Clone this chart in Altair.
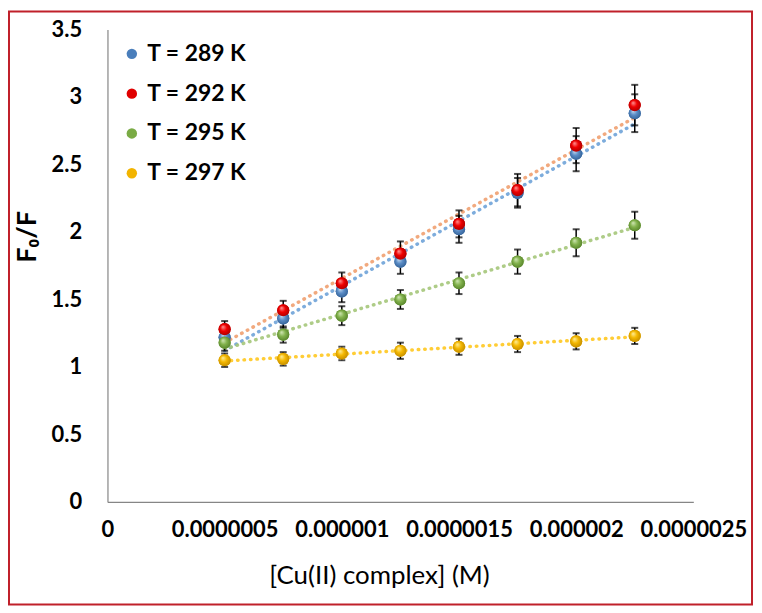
import altair as alt
import pandas as pd

conc = [0.0000005, 0.00000075, 0.000001, 0.00000125, 0.0000015, 0.00000175, 0.000002, 0.00000225]
series = ["T = 289 K", "T = 292 K", "T = 295 K", "T = 297 K"]

f289 = [1.22, 1.36, 1.56, 1.78, 2.02, 2.29, 2.58, 2.88]
f292 = [1.28, 1.42, 1.62, 1.84, 2.06, 2.31, 2.64, 2.94]
f295 = [1.18, 1.24, 1.38, 1.50, 1.62, 1.78, 1.92, 2.05]
f297 = [1.05, 1.06, 1.10, 1.12, 1.15, 1.17, 1.19, 1.23]

e289 = [0.06, 0.07, 0.08, 0.09, 0.10, 0.11, 0.13, 0.14]
e292 = [0.06, 0.07, 0.08, 0.09, 0.10, 0.12, 0.13, 0.15]
e295 = [0.06, 0.06, 0.07, 0.07, 0.08, 0.09, 0.10, 0.10]
e297 = [0.05, 0.05, 0.05, 0.06, 0.06, 0.06, 0.06, 0.06]

x_ticks = [0, 0.0000005, 0.000001, 0.0000015, 0.000002, 0.0000025]
y_ticks = [0, 0.5, 1, 1.5, 2, 2.5, 3, 3.5]

marker_colors = ["#4A7EBB", "#E00000", "#7AAB45", "#F2B400"]
trend_colors = ["#6FA3D8", "#F0A070", "#A5C77A", "#FFC820"]
grad_stops = [
    ["#C9DDF2", "#5A8CC6", "#2D5A8E"],
    ["#FF9A9A", "#F00000", "#A00000"],
    ["#D3E8B8", "#82B24C", "#4E7A24"],
    ["#FFF0A0", "#F5B800", "#B88400"],
]

rows = []
for s, ys, es in zip(series, [f289, f292, f295, f297], [e289, e292, e295, e297]):
    for c, v, e in zip(conc, ys, es):
        rows.append({"conc": c, "series": s, "y": v, "lo": v - e, "hi": v + e})
df = pd.DataFrame(rows)

FONT = "Lato"

xs = alt.X("conc:Q", scale=alt.Scale(domain=[0, 0.0000025], nice=False, zero=False),
           axis=alt.Axis(values=x_ticks, format=".7~f", title="[Cu(II) complex] (M)",
                         titleX=273, titleY=74, titleBaseline="middle", titleAlign="center",
                         titleFontWeight="normal", titleFontSize=26, labelPadding=18,
                         labelFlush=False))
ys_ = alt.Y("y:Q", scale=alt.Scale(domain=[0, 3.5], nice=False),
            axis=alt.Axis(values=y_ticks, format="~f", title="F₀/F",
                          titleX=-80, titleY=208, titleAngle=-90, titleBaseline="middle",
                          titleAlign="center", titleFontSize=27, titleFontWeight="bold",
                          labelPadding=26))

base = alt.Chart(df)

frame = alt.Chart(alt.Data(values=[{"k": 1}])).mark_rect(
    fillOpacity=0, stroke="#C0202A", strokeWidth=2
).encode(x=alt.value(-99), x2=alt.value(648), y=alt.value(-18), y2=alt.value(578))

trend = base.transform_calculate(grp="datum.series").transform_regression(
    "conc", "y", groupby=["grp"]
).mark_line(
    strokeDash=[0.5, 6], strokeWidth=3.5, strokeCap="round", opacity=0.9
).encode(
    x=xs, y=ys_,
    stroke=alt.Stroke("grp:N", scale=alt.Scale(domain=series, range=trend_colors), legend=None),
)

err = base.mark_rule(color="black", strokeWidth=1.5).encode(x="conc:Q", y="lo:Q", y2="hi:Q")
cap_lo = base.mark_tick(color="black", thickness=2, size=7, orient="horizontal").encode(x="conc:Q", y="lo:Q")
cap_hi = base.mark_tick(color="black", thickness=2, size=7, orient="horizontal").encode(x="conc:Q", y="hi:Q")

pts = base.mark_circle(size=150, opacity=1).encode(
    x="conc:Q", y="y:Q",
    color=alt.Color("series:N", scale=alt.Scale(domain=series, range=marker_colors),
                    legend=alt.Legend(title=None, orient="none", legendX=13, legendY=13,
                                      labelFont=FONT, labelFontWeight="bold", labelFontSize=23,
                                      labelColor="black", symbolType="circle", symbolSize=110,
                                      rowPadding=16, labelOffset=4, padding=0,
                                      symbolStrokeWidth=0)),
)

glayers = []
for s, st in zip(series, grad_stops):
    g = alt.Gradient(
        gradient="radial", x1=0.35, y1=0.3, r1=0.0, x2=0.5, y2=0.5, r2=0.6,
        stops=[alt.GradientStop(offset=0, color=st[0]),
               alt.GradientStop(offset=0.45, color=st[1]),
               alt.GradientStop(offset=1, color=st[2])],
    )
    glayers.append(
        base.transform_filter(alt.datum.series == s).mark_circle(size=150, opacity=1, fill=g)
        .encode(x="conc:Q", y="y:Q")
    )

chart = alt.layer(frame, trend, err, cap_lo, cap_hi, pts, *glayers).resolve_legend(
    color="independent", stroke="independent"
).properties(
    width=589, height=475,
    padding={"left": 100, "top": 20, "right": 61, "bottom": 105},
    autosize=alt.AutoSizeParams(type="none"),
    background="white",
).configure_view(stroke=None).configure_axis(
    grid=False, ticks=False, domainColor="#868686", domainWidth=1.2,
    labelFont=FONT, labelFontSize=22, labelFontWeight="bold", labelColor="black",
    titleFont=FONT, titleColor="black",
)

chart.save("out.html", embed_options={"renderer": "svg", "actions": False})
